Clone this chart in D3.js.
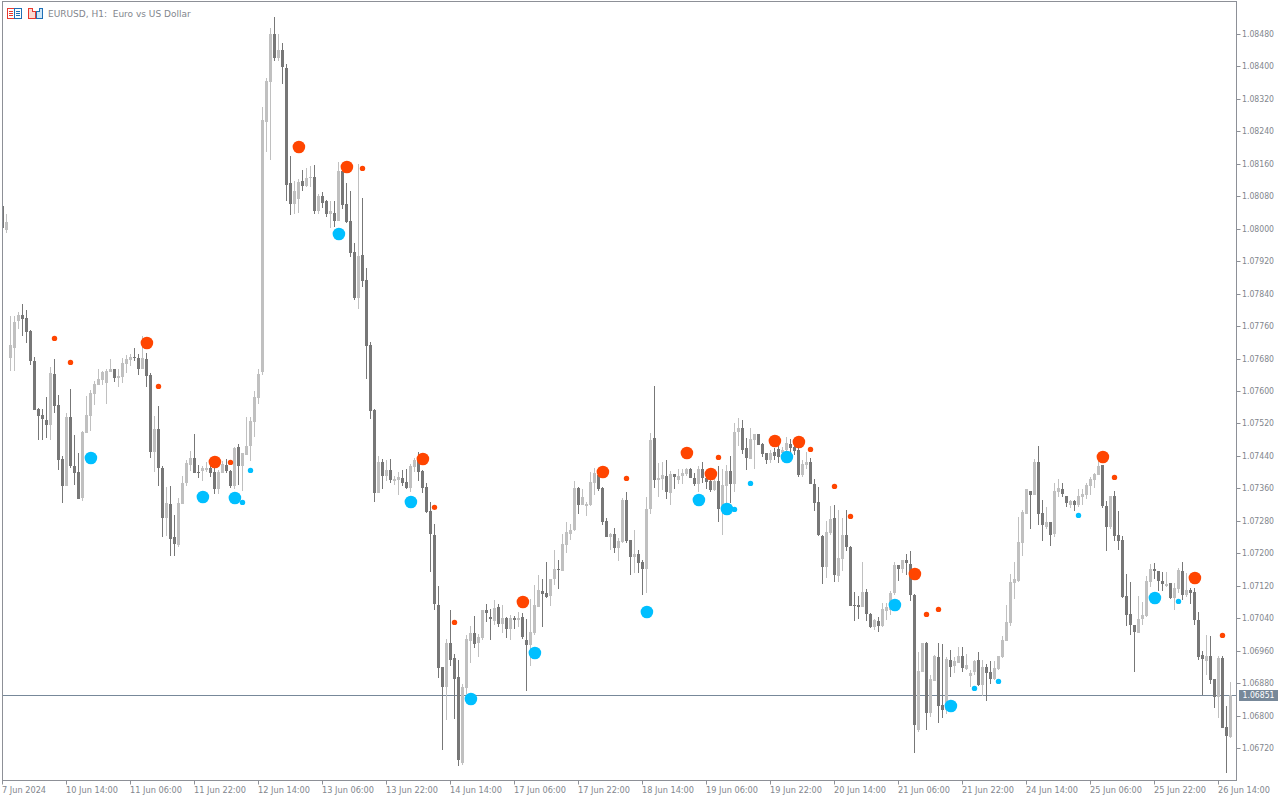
<!DOCTYPE html>
<html><head><meta charset="utf-8">
<script src="https://cdn.jsdelivr.net/npm/d3@7"></script>
<style>
html,body{margin:0;padding:0;background:#fff;overflow:hidden}
svg{display:block}
text{font-family:"DejaVu Sans",sans-serif;font-size:9px;fill:#82868d;white-space:pre}
</style></head><body>
<svg id="c" width="1280" height="800"></svg>
<script>
const title = "EURUSD, H1:  Euro vs US Dollar";
const highs = [
1.08055,1.08037,1.07784,1.07786,1.07795,1.07815,1.07800,1.07751,1.07684,1.07559,
1.07556,1.07586,1.07660,1.07680,1.07591,1.07441,1.07547,1.07606,1.07492,1.07448,
1.07502,1.07588,1.07603,1.07625,1.07655,1.07650,1.07653,1.07680,1.07653,1.07653,
1.07682,1.07689,1.07692,1.07707,1.07692,1.07736,1.07694,1.07645,1.07539,1.07564,
1.07416,1.07364,1.07367,1.07295,1.07337,1.07391,1.07431,1.07453,1.07495,1.07418,
1.07416,1.07426,1.07416,1.07426,1.07406,1.07428,1.07433,1.07406,1.07463,1.07470,
1.07448,1.07537,1.07537,1.07601,1.07655,1.08300,1.08371,1.08495,1.08522,1.08480,
1.08458,1.08406,1.08179,1.08118,1.08123,1.08145,1.08150,1.08155,1.08157,1.08086,
1.08091,1.08071,1.08068,1.08068,1.08164,1.08142,1.08113,1.08093,1.07965,1.08160,
1.08076,1.07903,1.07721,1.07556,1.07440,1.07433,1.07430,1.07433,1.07391,1.07401,
1.07406,1.07408,1.07420,1.07435,1.07450,1.07406,1.07373,1.07327,1.07272,1.07120,
1.06920,1.06989,1.07061,1.06952,1.06937,1.06878,1.06999,1.07021,1.07046,1.07001,
1.07061,1.07075,1.07063,1.07085,1.07075,1.07073,1.07043,1.07048,1.07046,1.07056,
1.07053,1.07038,1.07088,1.07122,1.07147,1.07137,1.07179,1.07137,1.07209,1.07184,
1.07248,1.07278,1.07273,1.07379,1.07364,1.07359,1.07327,1.07401,1.07411,1.07408,
1.07364,1.07287,1.07250,1.07263,1.07238,1.07337,1.07352,1.07233,1.07258,1.07209,
1.07184,1.07339,1.07497,1.07613,1.07423,1.07425,1.07430,1.07403,1.07396,1.07408,
1.07408,1.07411,1.07411,1.07398,1.07416,1.07425,1.07398,1.07398,1.07403,1.07416,
1.07408,1.07418,1.07440,1.07522,1.07534,1.07529,1.07485,1.07509,1.07494,1.07494,
1.07472,1.07448,1.07455,1.07460,1.07465,1.07463,1.07487,1.07482,1.07467,1.07460,
1.07430,1.07450,1.07435,1.07384,1.07364,1.07245,1.07280,1.07317,1.07319,1.07307,
1.07287,1.07307,1.07218,1.07105,1.07095,1.07179,1.07112,1.07053,1.07039,1.07043,
1.07078,1.07078,1.07108,1.07179,1.07172,1.07184,1.07199,1.07206,1.07100,1.06957,
1.06979,1.06982,1.06901,1.06950,1.06979,1.06977,1.06945,1.06962,1.06945,1.06970,
1.06970,1.06952,1.06913,1.06938,1.06957,1.06938,1.06928,1.06935,1.06935,1.06947,
1.06995,1.07073,1.07149,1.07179,1.07290,1.07307,1.07359,1.07354,1.07433,1.07465,
1.07332,1.07315,1.07278,1.07374,1.07383,1.07374,1.07342,1.07332,1.07332,1.07359,
1.07359,1.07374,1.07388,1.07398,1.07430,1.07418,1.07329,1.07342,1.07354,1.07305,
1.07243,1.07149,1.07130,1.07024,1.07095,1.07080,1.07144,1.07174,1.07177,1.07157,
1.07154,1.07154,1.07127,1.07127,1.07164,1.07179,1.07151,1.07115,1.07115,1.07056,
1.06960,1.06999,1.06997,1.06891,1.06947,1.06947,1.06824,1.06883];
const lows = [
1.08002,1.07989,1.07650,1.07650,1.07754,1.07736,1.07719,1.07665,1.07554,1.07478,
1.07478,1.07485,1.07478,1.07547,1.07406,1.07325,1.07367,1.07411,1.07369,1.07335,
1.07330,1.07497,1.07502,1.07566,1.07616,1.07616,1.07569,1.07648,1.07623,1.07611,
1.07620,1.07645,1.07662,1.07675,1.07640,1.07653,1.07611,1.07436,1.07401,1.07367,
1.07239,1.07243,1.07194,1.07194,1.07216,1.07322,1.07367,1.07404,1.07399,1.07386,
1.07377,1.07401,1.07389,1.07347,1.07345,1.07399,1.07399,1.07362,1.07359,1.07369,
1.07354,1.07443,1.07428,1.07487,1.07569,1.07640,1.08189,1.08169,1.08413,1.08413,
1.08357,1.08068,1.08034,1.08036,1.08039,1.08093,1.08103,1.08103,1.08036,1.08036,
1.08051,1.08029,1.08002,1.08004,1.08019,1.08049,1.08014,1.07930,1.07824,1.07802,
1.07856,1.07630,1.07531,1.07327,1.07349,1.07359,1.07378,1.07373,1.07369,1.07344,
1.07366,1.07359,1.07351,1.07401,1.07378,1.07349,1.07300,1.07154,1.07061,1.06893,
1.06716,1.06790,1.06923,1.06792,1.06676,1.06679,1.06854,1.06930,1.06967,1.06945,
1.06987,1.07031,1.06987,1.07024,1.07019,1.07004,1.06992,1.06987,1.07014,1.07019,
1.06989,1.06861,1.06923,1.06999,1.07068,1.07019,1.07090,1.07071,1.07122,1.07113,
1.07157,1.07201,1.07233,1.07255,1.07297,1.07319,1.07292,1.07317,1.07344,1.07354,
1.07270,1.07241,1.07209,1.07201,1.07182,1.07226,1.07226,1.07147,1.07152,1.07152,
1.07098,1.07103,1.07297,1.07361,1.07339,1.07356,1.07334,1.07319,1.07359,1.07371,
1.07371,1.07391,1.07386,1.07366,1.07352,1.07374,1.07359,1.07352,1.07354,1.07278,
1.07246,1.07324,1.07324,1.07352,1.07465,1.07445,1.07406,1.07433,1.07408,1.07467,
1.07438,1.07420,1.07423,1.07430,1.07423,1.07430,1.07443,1.07443,1.07443,1.07388,
1.07388,1.07408,1.07371,1.07305,1.07243,1.07125,1.07140,1.07245,1.07130,1.07130,
1.07157,1.07206,1.07071,1.07034,1.07039,1.07068,1.07034,1.07016,1.07011,1.07007,
1.07019,1.07036,1.07048,1.07098,1.07132,1.07152,1.07147,1.07083,1.06708,1.06760,
1.06908,1.06765,1.06797,1.06886,1.06782,1.06795,1.06804,1.06896,1.06905,1.06930,
1.06908,1.06913,1.06871,1.06901,1.06873,1.06849,1.06837,1.06878,1.06888,1.06913,
1.06942,1.06984,1.07021,1.07088,1.07130,1.07194,1.07297,1.07260,1.07344,1.07270,
1.07231,1.07260,1.07218,1.07241,1.07339,1.07339,1.07315,1.07312,1.07305,1.07315,
1.07319,1.07334,1.07344,1.07361,1.07393,1.07312,1.07206,1.07260,1.07231,1.07209,
1.07090,1.07021,1.06999,1.06908,1.07004,1.07024,1.07044,1.07117,1.07137,1.07108,
1.07108,1.07117,1.07088,1.07061,1.07103,1.07085,1.07093,1.07076,1.07024,1.06938,
1.06851,1.06901,1.06878,1.06819,1.06795,1.06770,1.06659,1.06745];
const opens = [
1.08055,1.07997,1.07682,1.07707,1.07773,1.07788,1.07781,1.07749,1.07675,1.07556,
1.07542,1.07529,1.07517,1.07643,1.07566,1.07433,1.07367,1.07537,1.07414,1.07401,
1.07337,1.07497,1.07539,1.07593,1.07616,1.07628,1.07620,1.07648,1.07653,1.07633,
1.07635,1.07667,1.07677,1.07685,1.07682,1.07653,1.07680,1.07640,1.07450,1.07507,
1.07411,1.07288,1.07322,1.07239,1.07221,1.07322,1.07372,1.07418,1.07436,1.07401,
1.07404,1.07406,1.07409,1.07401,1.07359,1.07399,1.07418,1.07404,1.07367,1.07463,
1.07414,1.07443,1.07465,1.07524,1.07583,1.07647,1.08263,1.08362,1.08480,1.08421,
1.08440,1.08396,1.08113,1.08061,1.08073,1.08118,1.08105,1.08125,1.08128,1.08044,
1.08081,1.08068,1.08036,1.08039,1.08019,1.08142,1.08061,1.08019,1.07943,1.07829,
1.07935,1.07874,1.07713,1.07553,1.07349,1.07425,1.07391,1.07406,1.07378,1.07381,
1.07386,1.07376,1.07361,1.07413,1.07430,1.07403,1.07364,1.07304,1.07245,1.07073,
1.06920,1.06871,1.06979,1.06942,1.06895,1.06684,1.06868,1.06984,1.07004,1.06979,
1.06992,1.07061,1.07043,1.07033,1.07068,1.07026,1.07041,1.07014,1.07041,1.07036,
1.07043,1.06987,1.06974,1.07004,1.07068,1.07108,1.07103,1.07095,1.07137,1.07162,
1.07157,1.07221,1.07248,1.07258,1.07361,1.07319,1.07317,1.07319,1.07374,1.07393,
1.07361,1.07280,1.07241,1.07248,1.07214,1.07228,1.07332,1.07233,1.07191,1.07199,
1.07179,1.07162,1.07310,1.07485,1.07381,1.07384,1.07391,1.07349,1.07396,1.07381,
1.07391,1.07396,1.07408,1.07386,1.07371,1.07408,1.07386,1.07379,1.07356,1.07379,
1.07310,1.07366,1.07403,1.07371,1.07499,1.07509,1.07460,1.07433,1.07480,1.07494,
1.07470,1.07448,1.07430,1.07450,1.07457,1.07447,1.07455,1.07470,1.07462,1.07455,
1.07393,1.07418,1.07425,1.07371,1.07327,1.07243,1.07167,1.07250,1.07287,1.07145,
1.07186,1.07245,1.07216,1.07073,1.07073,1.07068,1.07105,1.07051,1.07019,1.07034,
1.07021,1.07058,1.07061,1.07103,1.07172,1.07162,1.07184,1.07174,1.07098,1.06765,
1.06908,1.06979,1.06807,1.06886,1.06945,1.06827,1.06814,1.06938,1.06923,1.06930,
1.06947,1.06915,1.06898,1.06908,1.06938,1.06876,1.06920,1.06908,1.06891,1.06915,
1.06945,1.06984,1.07029,1.07127,1.07132,1.07226,1.07297,1.07354,1.07344,1.07425,
1.07300,1.07265,1.07278,1.07248,1.07351,1.07359,1.07342,1.07319,1.07329,1.07319,
1.07339,1.07344,1.07366,1.07381,1.07393,1.07418,1.07317,1.07265,1.07342,1.07246,
1.07233,1.07095,1.07051,1.07024,1.07004,1.07039,1.07046,1.07130,1.07162,1.07157,
1.07132,1.07120,1.07127,1.07090,1.07112,1.07157,1.07098,1.07110,1.07105,1.07036,
1.06950,1.06935,1.06947,1.06891,1.06846,1.06942,1.06772,1.06748];
const closes = [
1.08002,1.08017,1.07714,1.07771,1.07788,1.07778,1.07746,1.07675,1.07554,1.07539,
1.07532,1.07517,1.07645,1.07564,1.07431,1.07367,1.07537,1.07414,1.07399,1.07335,
1.07500,1.07542,1.07596,1.07618,1.07630,1.07648,1.07650,1.07653,1.07633,1.07638,
1.07670,1.07680,1.07685,1.07682,1.07655,1.07682,1.07638,1.07450,1.07507,1.07411,
1.07288,1.07325,1.07236,1.07224,1.07325,1.07374,1.07423,1.07436,1.07399,1.07399,
1.07411,1.07411,1.07399,1.07359,1.07401,1.07421,1.07404,1.07367,1.07460,1.07414,
1.07448,1.07465,1.07527,1.07586,1.07643,1.08268,1.08364,1.08480,1.08421,1.08440,
1.08399,1.08108,1.08061,1.08093,1.08115,1.08105,1.08125,1.08128,1.08044,1.08081,
1.08063,1.08036,1.08044,1.08019,1.08142,1.08059,1.08017,1.07940,1.07829,1.07933,
1.07871,1.07711,1.07551,1.07349,1.07425,1.07391,1.07406,1.07381,1.07383,1.07388,
1.07373,1.07361,1.07415,1.07430,1.07401,1.07361,1.07302,1.07248,1.07075,1.06918,
1.06871,1.06979,1.06937,1.06891,1.06691,1.06871,1.06989,1.07004,1.06977,1.06994,
1.07061,1.07053,1.07038,1.07065,1.07026,1.07041,1.07014,1.07041,1.07036,1.07041,
1.06994,1.06974,1.07006,1.07073,1.07110,1.07100,1.07093,1.07137,1.07162,1.07159,
1.07223,1.07253,1.07258,1.07361,1.07319,1.07339,1.07322,1.07376,1.07398,1.07359,
1.07278,1.07241,1.07248,1.07214,1.07231,1.07332,1.07231,1.07191,1.07199,1.07177,
1.07162,1.07310,1.07480,1.07381,1.07386,1.07393,1.07352,1.07396,1.07388,1.07391,
1.07398,1.07408,1.07386,1.07371,1.07408,1.07386,1.07376,1.07356,1.07379,1.07310,
1.07369,1.07403,1.07371,1.07499,1.07509,1.07455,1.07435,1.07482,1.07494,1.07467,
1.07445,1.07430,1.07448,1.07440,1.07438,1.07455,1.07472,1.07460,1.07452,1.07393,
1.07420,1.07425,1.07371,1.07324,1.07245,1.07167,1.07253,1.07285,1.07147,1.07189,
1.07245,1.07216,1.07071,1.07071,1.07068,1.07105,1.07051,1.07019,1.07036,1.07021,
1.07063,1.07068,1.07103,1.07172,1.07162,1.07184,1.07177,1.07098,1.06777,1.06910,
1.06979,1.06807,1.06891,1.06947,1.06824,1.06814,1.06940,1.06920,1.06935,1.06947,
1.06918,1.06925,1.06905,1.06935,1.06876,1.06920,1.06905,1.06891,1.06918,1.06947,
1.06987,1.07031,1.07130,1.07137,1.07228,1.07302,1.07359,1.07344,1.07425,1.07297,
1.07270,1.07278,1.07246,1.07354,1.07361,1.07347,1.07324,1.07329,1.07319,1.07342,
1.07347,1.07369,1.07383,1.07396,1.07416,1.07317,1.07265,1.07342,1.07243,1.07231,
1.07093,1.07048,1.07024,1.07007,1.07039,1.07048,1.07132,1.07162,1.07157,1.07132,
1.07125,1.07125,1.07090,1.07115,1.07159,1.07098,1.07110,1.07103,1.07036,1.06945,
1.06940,1.06947,1.06888,1.06846,1.06942,1.06770,1.06750,1.06851];

const bigRedIdx = [36,53,74,86,105,130,150,171,177,193,199,228,275,298];
const bigRedVal = [1.07719,1.07425,1.08202,1.08153,1.07433,1.07080,1.07401,1.07448,1.07396,1.07477,1.07475,1.07150,1.07438,1.07140];
const bigBlueIdx = [22,50,58,84,102,117,133,161,174,181,196,223,237,288];
const bigBlueVal = [1.07435,1.07339,1.07337,1.07987,1.07327,1.06841,1.06955,1.07056,1.07332,1.07310,1.07438,1.07073,1.06824,1.07090];
const smallRedIdx = [13,17,39,57,90,108,113,156,179,202,208,212,231,234,278,305];
const smallRedVal = [1.07730,1.07671,1.07612,1.07425,1.08149,1.07314,1.07030,1.07385,1.07437,1.07457,1.07366,1.07292,1.07050,1.07062,1.07388,1.06998];
const smallBlueIdx = [60,62,183,187,243,249,269,294];
const smallBlueVal = [1.07326,1.07405,1.07309,1.07373,1.06868,1.06885,1.07294,1.07082];

const priceTicks = [1.0672,1.068,1.0688,1.0696,1.0704,1.0712,1.072,1.0728,1.0736,1.0744,1.0752,1.076,1.0768,1.0776,1.0784,1.0792,1.08,1.0808,1.0816,1.0824,1.0832,1.084,1.0848];
const timeTickIdx = [0,16,32,48,64,80,96,112,128,144,160,176,192,208,224,240,256,272,288,304];
const timeTickLabels = ["7 Jun 2024","10 Jun 14:00","11 Jun 06:00","11 Jun 22:00","12 Jun 14:00","13 Jun 06:00","13 Jun 22:00","14 Jun 14:00","17 Jun 06:00","17 Jun 22:00","18 Jun 14:00","19 Jun 06:00","19 Jun 22:00","20 Jun 14:00","21 Jun 06:00","21 Jun 22:00","24 Jun 14:00","25 Jun 06:00","25 Jun 22:00","26 Jun 14:00"];
const lastPrice = 1.06851;

const AXIS="#8d9097", DARK="#777777", LIGHT="#c0c0c0", RED="#ff4500", BLUE="#00bfff", SLATE="#778899";
const svg=d3.select("#c");
const x=d3.scaleLinear().domain([0,1]).range([2.5,6.5]);
const y=d3.scaleLinear().domain([1.0848,1.0672]).rangeRound([34,748]);

function squeeze(sel,k){
 sel.each(function(){
  const t=d3.select(this);
  t.attr("textLength",this.getComputedTextLength()*k).attr("lengthAdjust","spacingAndGlyphs");
 });
}

svg.append("defs").append("clipPath").attr("id","plot").append("rect").attr("x",3).attr("y",2).attr("width",1233).attr("height",778);

const plot=svg.append("g").attr("clip-path","url(#plot)").attr("shape-rendering","crispEdges");
plot.append("rect").attr("x",3).attr("width",1233).attr("y",y(lastPrice)).attr("height",1).attr("fill",SLATE);

const idx=d3.range(highs.length);
const col=i=>closes[i]>=opens[i]?LIGHT:DARK;
plot.selectAll("rect.w").data(idx).join("rect").attr("class","w")
 .attr("x",i=>x(i)-.5).attr("width",1)
 .attr("y",i=>y(highs[i])).attr("height",i=>Math.max(1,y(lows[i])-y(highs[i])))
 .attr("fill",col);
plot.selectAll("rect.b").data(idx).join("rect").attr("class","b")
 .attr("x",i=>x(i)-1.5).attr("width",3)
 .attr("y",i=>Math.min(y(opens[i]),y(closes[i])))
 .attr("height",i=>Math.max(1,Math.abs(y(opens[i])-y(closes[i]))))
 .attr("fill",col);

function dots(ix,vals,r,c,dx,dy){
 svg.append("g").selectAll("circle").data(ix).join("circle")
  .attr("cx",d=>x(d)+dx).attr("cy",(d,k)=>y(vals[k])+dy).attr("r",r).attr("fill",c);
}
dots(bigRedIdx,bigRedVal,6.3,RED,.4,0);
dots(bigBlueIdx,bigBlueVal,6.3,BLUE,.4,0);
dots(smallRedIdx,smallRedVal,2.7,RED,0,.4);
dots(smallBlueIdx,smallBlueVal,2.7,BLUE,0,.4);

// frame
svg.append("rect").attr("x",2.5).attr("y",1.5).attr("width",1234).attr("height",779)
 .attr("fill","none").attr("stroke",AXIS).attr("shape-rendering","crispEdges");

// axes
const ya=svg.append("g").attr("transform","translate(1236.5,0)")
 .call(d3.axisRight(y).tickValues(priceTicks).tickSize(4).tickPadding(2).tickFormat(d=>d.toFixed(5)));
ya.select(".domain").remove();
ya.selectAll("line").attr("stroke",AXIS);
ya.selectAll("text").attr("fill",null).attr("x",5.5);
squeeze(ya.selectAll("text"),0.86);

const labelOf=new Map(timeTickIdx.map((d,k)=>[d,timeTickLabels[k]]));
const xa=svg.append("g").attr("transform","translate(0,780.5)")
 .call(d3.axisBottom(x).offset(0).tickValues(timeTickIdx).tickSize(4).tickPadding(2).tickFormat(d=>labelOf.get(d)));
xa.select(".domain").remove();
xa.selectAll("line").attr("stroke",AXIS);
xa.selectAll("text").attr("text-anchor","start").attr("x",-.5).attr("fill",null);
squeeze(xa.selectAll("text"),0.91);

// last price tag
svg.append("rect").attr("x",1239).attr("y",y(lastPrice)-5).attr("width",39).attr("height",11).attr("fill",SLATE);
svg.append("text").attr("x",1242.5).attr("y",y(lastPrice)+.5).attr("dy","0.32em").style("fill","#fff").text(lastPrice.toFixed(5)).call(squeeze,0.86);

// title
svg.append("text").attr("x",48).attr("y",17).text(title);

// toolbar icons
const ic=svg.append("g").attr("shape-rendering","crispEdges").attr("fill","none");
const IR="#e8392f", IB="#1f6fb5";
ic.append("rect").attr("x",7.5).attr("y",8.5).attr("width",7).attr("height",10).attr("stroke",IR);
ic.append("rect").attr("x",14.5).attr("y",8.5).attr("width",7).attr("height",10).attr("stroke",IB);
[11,13,15].forEach(v=>{
 ic.append("rect").attr("x",9).attr("y",v).attr("width",4).attr("height",1).attr("fill",IR);
 ic.append("rect").attr("x",16).attr("y",v).attr("width",4).attr("height",1).attr("fill",IB);
});
ic.append("path").attr("d","M28.5 8.5H32.5V11.5H35.5V18.5H28.5Z").attr("stroke",IR).attr("fill","#fcd9d2");
ic.append("path").attr("d","M36.5 18.5V11.5H39.5V8.5H42.5V18.5Z").attr("stroke",IB).attr("fill","#cfe6f7");
</script>
</body></html>
